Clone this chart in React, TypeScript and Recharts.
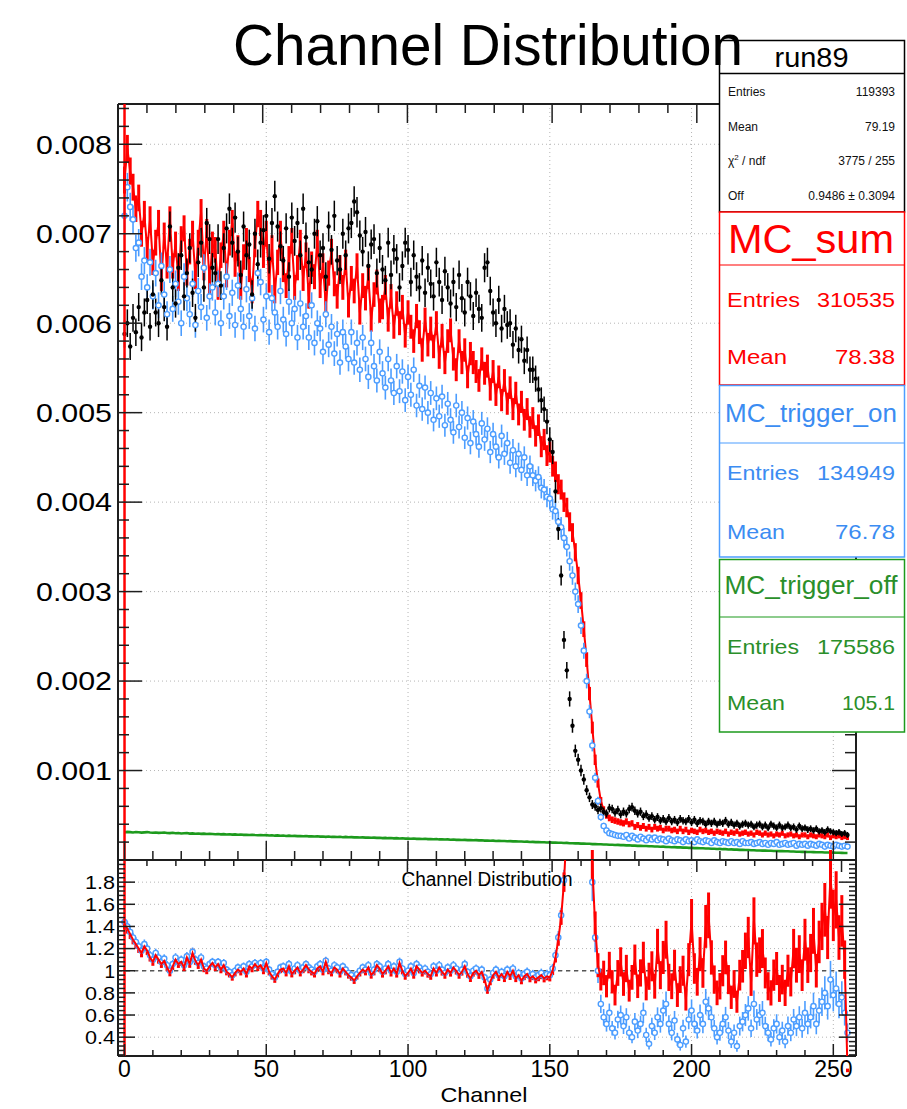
import React from 'react';
import { ComposedChart, Line, Scatter, XAxis, YAxis, ErrorBar, ReferenceLine, CartesianGrid } from 'recharts';

// bin centres (channel)
const CHANNELS = [
  0, 1, 2, 3, 4, 5, 6, 7, 8, 9, 10, 11, 12, 13, 14, 15,
  16, 17, 18, 19, 20, 21, 22, 23, 24, 25, 26, 27, 28, 29, 30, 31,
  32, 33, 34, 35, 36, 37, 38, 39, 40, 41, 42, 43, 44, 45, 46, 47,
  48, 49, 50, 51, 52, 53, 54, 55, 56, 57, 58, 59, 60, 61, 62, 63,
  64, 65, 66, 67, 68, 69, 70, 71, 72, 73, 74, 75, 76, 77, 78, 79,
  80, 81, 82, 83, 84, 85, 86, 87, 88, 89, 90, 91, 92, 93, 94, 95,
  96, 97, 98, 99, 100, 101, 102, 103, 104, 105, 106, 107, 108, 109, 110, 111,
  112, 113, 114, 115, 116, 117, 118, 119, 120, 121, 122, 123, 124, 125, 126, 127,
  128, 129, 130, 131, 132, 133, 134, 135, 136, 137, 138, 139, 140, 141, 142, 143,
  144, 145, 146, 147, 148, 149, 150, 151, 152, 153, 154, 155, 156, 157, 158, 159,
  160, 161, 162, 163, 164, 165, 166, 167, 168, 169, 170, 171, 172, 173, 174, 175,
  176, 177, 178, 179, 180, 181, 182, 183, 184, 185, 186, 187, 188, 189, 190, 191,
  192, 193, 194, 195, 196, 197, 198, 199, 200, 201, 202, 203, 204, 205, 206, 207,
  208, 209, 210, 211, 212, 213, 214, 215, 216, 217, 218, 219, 220, 221, 222, 223,
  224, 225, 226, 227, 228, 229, 230, 231, 232, 233, 234, 235, 236, 237, 238, 239,
  240, 241, 242, 243, 244, 245, 246, 247, 248, 249, 250, 251, 252, 253, 254, 255,
];

// normalised bin contents, in units of 1e-5
const DATA_RUN89 = [
  588, 600, 574, 606, 590, 618, 584, 612, 626, 596, 632, 612, 600, 648, 618, 596,
  708, 640, 622, 662, 676, 630, 656, 684, 634, 606, 668, 690, 640, 712, 694, 662,
  656, 694, 642, 684, 706, 728, 690, 718, 680, 654, 708, 676, 688, 632, 700, 666,
  690, 704, 720, 672, 712, 742, 708, 686, 670, 706, 652, 718, 692, 712, 676, 728,
  696, 668, 660, 700, 714, 676, 684, 652, 708, 682, 720, 670, 660, 700, 676, 706,
  712, 736, 724, 698, 680, 702, 664, 688, 694, 656, 684, 660, 648, 690, 654, 682,
  672, 640, 664, 690, 682, 646, 676, 652, 640, 670, 634, 662, 644, 630, 668, 646,
  626, 658, 640, 622, 646, 618, 654, 628, 612, 646, 630, 608, 634, 616, 606, 662,
  668, 636, 612, 600, 626, 594, 616, 598, 600, 576, 594, 570, 582, 558, 570, 548,
  548, 538, 526, 514, 504, 490, 470, 456, 412, 370, 318, 246, 212, 180, 150, 122,
  112, 100, 90, 78, 70, 62, 60, 56, 58, 54, 52, 58, 57, 53, 56, 51,
  54, 52, 57, 59, 55, 52, 54, 49, 51, 47, 49, 45, 48, 44, 46, 43,
  47, 43, 45, 42, 46, 44, 43, 46, 42, 45, 41, 44, 43, 40, 43, 41,
  43, 40, 42, 41, 44, 40, 42, 39, 41, 38, 40, 41, 39, 40, 37, 39,
  40, 37, 39, 36, 40, 38, 36, 39, 36, 37, 39, 36, 37, 34, 38, 35,
  36, 34, 35, 33, 35, 32, 33, 31, 34, 32, 31, 30, 31, 29, 30, 28,
];

const MC_SUM = [
  760, 795, 770, 752, 728, 740, 700, 722, 682, 716, 668, 690, 712, 650, 698, 664,
  716, 664, 688, 650, 694, 706, 656, 680, 700, 652, 690, 724, 662, 702, 646, 688,
  682, 640, 676, 700, 654, 690, 712, 666, 684, 640, 674, 692, 660, 636, 688, 722,
  712, 676, 700, 648, 684, 636, 668, 700, 660, 642, 672, 692, 640, 662, 690, 650,
  676, 630, 666, 652, 690, 642, 664, 620, 656, 680, 644, 630, 662, 640, 668, 620,
  650, 636, 664, 612, 642, 628, 652, 604, 632, 646, 614, 618, 640, 604, 630, 596,
  622, 600, 618, 586, 612, 596, 580, 608, 590, 570, 604, 576, 594, 574, 600, 562,
  586, 556, 580, 592, 560, 548, 580, 556, 570, 540, 566, 556, 546, 536, 560, 544,
  552, 526, 546, 520, 540, 514, 536, 510, 528, 504, 522, 498, 512, 492, 504, 484,
  494, 474, 486, 462, 470, 452, 456, 440, 434, 420, 414, 400, 394, 378, 366, 344,
  318, 290, 258, 224, 186, 148, 112, 86, 66, 56, 50, 47, 45, 44, 43, 42,
  41, 43, 40, 41, 37, 39, 36, 38, 35, 37, 34, 37, 35, 36, 33, 35,
  35, 33, 34, 32, 35, 32, 34, 31, 33, 32, 31, 34, 32, 33, 31, 32,
  30, 32, 31, 30, 32, 29, 31, 30, 32, 29, 30, 31, 29, 30, 28, 31,
  30, 28, 30, 28, 29, 27, 29, 28, 30, 27, 28, 29, 27, 28, 26, 28,
  28, 26, 28, 27, 26, 28, 27, 26, 28, 25, 27, 26, 27, 25, 26, 25,
];

const MC_TRIGGER_ON = [
  720, 752, 730, 716, 684, 690, 652, 670, 640, 668, 630, 656, 620, 664, 632, 610,
  660, 616, 644, 624, 600, 652, 628, 610, 644, 598, 636, 618, 662, 606, 630, 640,
  612, 644, 600, 630, 652, 608, 634, 598, 642, 616, 596, 638, 608, 628, 594, 656,
  646, 604, 630, 590, 628, 612, 596, 636, 604, 588, 624, 600, 616, 584, 622, 596,
  608, 584, 620, 578, 600, 594, 568, 610, 576, 596, 566, 588, 556, 590, 574, 560,
  590, 556, 578, 548, 584, 560, 540, 578, 552, 536, 568, 544, 528, 560, 536, 522,
  552, 524, 546, 514, 540, 520, 548, 508, 530, 504, 528, 500, 522, 492, 516, 496,
  518, 486, 510, 492, 478, 508, 484, 500, 472, 494, 466, 490, 476, 462, 488, 470,
  482, 456, 476, 462, 450, 474, 454, 466, 444, 458, 440, 454, 436, 450, 430, 440,
  430, 424, 428, 416, 414, 406, 404, 392, 390, 378, 372, 360, 350, 334, 318, 300,
  286, 262, 234, 200, 166, 128, 92, 66, 48, 38, 33, 30, 29, 28, 27, 27,
  26, 28, 24, 27, 25, 23, 26, 24, 22, 25, 23, 25, 22, 24, 23, 21,
  24, 22, 21, 23, 22, 20, 23, 21, 22, 20, 23, 21, 20, 22, 21, 19,
  22, 20, 19, 21, 20, 19, 21, 19, 20, 18, 21, 19, 19, 20, 18, 19,
  20, 18, 19, 17, 19, 18, 20, 17, 18, 19, 17, 18, 19, 16, 18, 17,
  18, 16, 18, 17, 16, 18, 17, 15, 17, 16, 15, 17, 16, 15, 16, 15,
];

const MC_TRIGGER_OFF = [
  31.0, 31.4, 31.2, 30.8, 31.3, 31.0, 30.6, 30.9, 31.2, 30.7, 30.4, 30.8, 30.3, 30.5, 30.7, 30.2,
  30.0, 30.4, 29.9, 30.2, 29.6, 29.9, 30.1, 29.5, 29.7, 29.3, 29.6, 29.2, 29.5, 29.0, 29.3, 29.1,
  28.8, 29.1, 28.7, 28.9, 28.5, 28.8, 28.4, 28.6, 28.2, 28.5, 28.1, 28.3, 28.0, 28.2, 27.9, 27.7,
  28.0, 27.6, 27.8, 27.4, 27.6, 27.2, 27.5, 27.1, 27.3, 26.9, 27.2, 26.8, 27.0, 26.7, 26.9, 26.5,
  26.8, 26.4, 26.6, 26.2, 26.5, 26.1, 26.3, 25.9, 26.2, 25.8, 26.0, 25.7, 25.9, 25.5, 25.8, 25.4,
  25.6, 25.3, 25.5, 25.1, 25.3, 25.0, 25.2, 24.8, 25.0, 24.7, 24.9, 24.5, 24.7, 24.4, 24.6, 24.2,
  24.4, 24.1, 24.3, 23.9, 24.1, 23.8, 24.0, 23.6, 23.8, 23.5, 23.7, 23.3, 23.5, 23.2, 23.4, 23.0,
  23.2, 22.9, 23.0, 22.7, 22.9, 22.5, 22.7, 22.4, 22.5, 22.2, 22.4, 22.0, 22.2, 21.9, 22.0, 21.7,
  21.8, 21.5, 21.7, 21.3, 21.5, 21.2, 21.3, 21.0, 21.1, 20.8, 20.9, 20.6, 20.7, 20.4, 20.5, 20.2,
  20.3, 20.0, 20.1, 19.8, 19.9, 19.6, 19.7, 19.4, 19.5, 19.2, 19.3, 19.0, 19.1, 18.8, 18.8, 18.6,
  18.6, 18.3, 18.4, 18.1, 18.1, 17.8, 17.9, 17.6, 17.6, 17.3, 17.4, 17.1, 17.1, 16.8, 16.9, 16.6,
  16.6, 16.3, 16.4, 16.1, 16.1, 15.8, 15.9, 15.6, 15.6, 15.3, 15.4, 15.1, 15.1, 14.8, 14.9, 14.6,
  14.6, 14.3, 14.4, 14.1, 14.1, 13.8, 13.9, 13.6, 13.6, 13.3, 13.4, 13.1, 13.1, 12.8, 12.9, 12.6,
  12.6, 12.3, 12.4, 12.1, 12.1, 11.8, 11.9, 11.6, 11.6, 11.3, 11.4, 11.1, 11.1, 10.9, 10.9, 10.7,
  10.7, 10.5, 10.5, 10.3, 10.3, 10.1, 10.1, 9.9, 9.9, 9.7, 9.7, 9.5, 9.5, 9.3, 9.3, 9.1,
  9.1, 8.9, 8.9, 8.8, 8.7, 8.6, 8.6, 8.4, 8.4, 8.3, 8.2, 8.1, 8.1, 8.0, 7.9, 7.9,
];

// ratio panel
const RATIO_SUM = [
  1.42, 1.38, 1.33, 1.28, 1.24, 1.20, 1.16, 1.22, 1.18, 1.12, 1.08, 1.14, 1.10, 1.06, 1.09, 1.03,
  0.98, 1.04, 1.10, 1.06, 1.08, 1.03, 1.12, 1.06, 1.16, 1.09, 1.05, 1.10, 1.02, 1.00, 1.04, 1.07,
  1.03, 1.06, 1.01, 1.05, 0.99, 0.97, 0.94, 0.98, 1.01, 0.99, 1.02, 0.97, 1.04, 1.02, 1.06, 1.03,
  1.05, 1.00, 1.07, 0.99, 0.95, 0.92, 0.97, 1.01, 1.02, 0.98, 1.04, 0.97, 1.00, 1.03, 0.98, 1.01,
  1.05, 1.01, 0.99, 0.97, 1.02, 1.04, 0.99, 1.08, 1.00, 0.98, 1.03, 1.01, 0.97, 1.02, 0.99, 0.96,
  0.94, 0.91, 0.95, 0.98, 1.01, 0.99, 1.03, 0.96, 0.99, 1.05, 1.02, 0.97, 1.00, 1.04, 0.98, 1.02,
  0.97, 1.07, 1.00, 0.95, 0.98, 1.02, 0.96, 1.04, 1.01, 0.98, 1.00, 0.97, 0.95, 1.02, 0.98, 1.03,
  0.99, 0.96, 1.01, 0.98, 1.03, 1.00, 0.96, 0.99, 1.04, 0.97, 0.93, 0.98, 1.00, 0.96, 0.99, 0.92,
  0.82, 0.90, 0.96, 0.99, 0.94, 0.97, 0.93, 0.99, 0.95, 1.00, 0.93, 0.96, 0.91, 0.95, 0.97, 0.93,
  0.95, 0.92, 0.94, 0.96, 0.93, 0.95, 0.94, 1.00, 1.12, 1.28, 1.48, 1.80, 2.30, 2.80, 3.00, 3.00,
  3.00, 3.00, 3.00, 3.00, 2.60, 1.95, 1.40, 1.05, 0.92, 0.98, 0.86, 1.05, 0.90, 0.78, 0.98, 1.08,
  0.88, 1.02, 0.82, 0.94, 1.10, 0.86, 0.98, 1.12, 0.84, 0.95, 1.04, 0.86, 1.22, 0.96, 1.12, 1.28,
  0.94, 0.86, 1.05, 0.78, 0.92, 1.00, 0.74, 1.10, 1.45, 1.02, 0.90, 1.15, 0.98, 1.40, 1.50, 1.12,
  0.92, 0.80, 0.86, 1.00, 1.12, 0.92, 0.76, 0.88, 0.72, 0.96, 1.04, 1.18, 1.30, 0.90, 1.45, 1.10,
  1.14, 1.20, 0.98, 0.86, 0.80, 0.96, 1.02, 0.84, 0.92, 0.80, 1.00, 0.90, 1.20, 1.05, 1.15, 0.96,
  1.28, 1.05, 1.16, 1.36, 1.00, 1.26, 1.40, 1.55, 1.30, 1.85, 1.50, 1.64, 1.30, 1.45, 1.10, 0.10,
];

const RATIO_ON = [
  1.44, 1.40, 1.35, 1.30, 1.26, 1.22, 1.18, 1.24, 1.20, 1.14, 1.10, 1.16, 1.12, 1.08, 1.11, 1.05,
  1.00, 1.06, 1.12, 1.08, 1.10, 1.05, 1.13, 1.08, 1.17, 1.10, 1.07, 1.12, 1.04, 1.02, 1.06, 1.08,
  1.05, 1.08, 1.03, 1.07, 1.01, 0.99, 0.96, 1.00, 1.03, 1.01, 1.04, 0.99, 1.06, 1.04, 1.07, 1.05,
  1.07, 1.02, 1.08, 1.01, 0.97, 0.94, 0.99, 1.03, 1.04, 1.00, 1.06, 0.99, 1.02, 1.05, 1.00, 1.03,
  1.06, 1.03, 1.01, 0.99, 1.04, 1.06, 1.01, 1.09, 1.02, 1.00, 1.05, 1.03, 0.99, 1.04, 1.01, 0.98,
  0.96, 0.93, 0.97, 1.00, 1.03, 1.01, 1.05, 0.98, 1.01, 1.06, 1.04, 0.99, 1.02, 1.06, 1.00, 1.04,
  0.99, 1.08, 1.02, 0.97, 1.00, 1.04, 0.98, 1.06, 1.03, 1.00, 1.02, 0.99, 0.97, 1.04, 1.00, 1.05,
  1.01, 0.98, 1.03, 1.00, 1.05, 1.02, 0.98, 1.01, 1.06, 0.99, 0.95, 1.00, 1.02, 0.98, 1.01, 0.94,
  0.84, 0.92, 0.98, 1.01, 0.96, 0.99, 0.95, 1.01, 0.97, 1.02, 0.95, 0.98, 0.93, 0.97, 0.99, 0.95,
  0.97, 0.94, 0.96, 0.98, 0.95, 0.97, 0.96, 1.02, 1.14, 1.30, 1.50, 1.82, 2.30, 2.80, 3.00, 3.00,
  3.00, 3.00, 3.00, 3.00, 2.40, 1.80, 1.30, 1.00, 0.70, 0.58, 0.52, 0.62, 0.48, 0.44, 0.56, 0.60,
  0.50, 0.58, 0.44, 0.40, 0.54, 0.46, 0.52, 0.62, 0.42, 0.34, 0.50, 0.44, 0.58, 0.52, 0.64, 0.70,
  0.52, 0.44, 0.55, 0.38, 0.33, 0.48, 0.36, 0.56, 0.64, 0.52, 0.46, 0.60, 0.52, 0.72, 0.66, 0.58,
  0.48, 0.40, 0.44, 0.52, 0.58, 0.46, 0.36, 0.44, 0.32, 0.50, 0.54, 0.60, 0.66, 0.48, 0.70, 0.56,
  0.60, 0.62, 0.50, 0.44, 0.38, 0.48, 0.52, 0.40, 0.46, 0.36, 0.50, 0.44, 0.56, 0.50, 0.58, 0.48,
  0.62, 0.52, 0.58, 0.68, 0.52, 0.64, 0.72, 0.80, 0.68, 0.92, 0.78, 0.84, 0.70, 0.76, 0.62, 0.44,
];

// axis ticks and labels
const X_LABELS = [0, 50, 100, 150, 200, 250];
const X_TICKS = [0, 10, 20, 30, 40, 50, 60, 70, 80, 90, 100, 110, 120, 130, 140, 150, 160, 170, 180, 190, 200, 210, 220, 230, 240, 250];
const Y_TOP_LABELS = [0.001, 0.002, 0.003, 0.004, 0.005, 0.006, 0.007, 0.008];
const Y_TOP_TICKS = Array.from({ length: 42 }, (_, i) => +((i + 1) * 0.0002).toFixed(4));
const Y_RATIO_LABELS = [0.4, 0.6, 0.8, 1, 1.2, 1.4, 1.6, 1.8];
const Y_RATIO_MAJOR = [...Y_RATIO_LABELS, 2];
const Y_RATIO_TICKS = Array.from({ length: 45 }, (_, i) => +(0.24 + i * 0.04).toFixed(2));

const RUN89_STATS = [
  ['Entries', '119393'],
  ['Mean', '79.19'],
  ['chi', '3775 / 255'],
  ['Off', '0.9486 \u00b1 0.3094'],
];

const X_DOMAIN: [number, number] = [-2.3, 258];
const Y_TOP_DOMAIN: [number, number] = [0, 0.00845];
const Y_RATIO_DOMAIN: [number, number] = [0.23, 2];

// sigma^2 = K * content
const K_DATA = 4.0e-6;
const K_SUM = 3.0e-6;
const K_ON = 3.4e-6;

const FONT = '"Liberation Sans", Arial, Helvetica, sans-serif';
const RED = '#ff0000';
const BLUE = '#4c9dff';
const BLUE_TEXT = '#3b8cf2';
const GREEN = '#1d9a1d';
const GREEN_TEXT = '#2a8f2a';
const FRAME = '#1e1e1e';
const GRID = '#b5b5b5';
const AXIS_LINE = { stroke: FRAME, strokeWidth: 2 };

const topData = CHANNELS.map((ch, i) => {
  const d = DATA_RUN89[i] * 1e-5;
  const s = MC_SUM[i] * 1e-5;
  const on = MC_TRIGGER_ON[i] * 1e-5;
  return {
    ch,
    data: d,
    dataErr: Math.sqrt(K_DATA * d),
    sum: s,
    sumErr: Math.sqrt(K_SUM * s),
    on,
    onErr: Math.sqrt(K_ON * on),
    off: MC_TRIGGER_OFF[i] * 1e-5,
    xErr: 0.5,
  };
});

const ratioData = CHANNELS.map((ch, i) => {
  const relD = K_DATA / (DATA_RUN89[i] * 1e-5);
  return {
    ch,
    sum: RATIO_SUM[i],
    sumErr: RATIO_SUM[i] * Math.sqrt(relD + K_SUM / (MC_SUM[i] * 1e-5)),
    on: RATIO_ON[i],
    onErr: RATIO_ON[i] * Math.sqrt(relD + K_ON / (MC_TRIGGER_ON[i] * 1e-5)),
  };
});

type TickProps = { x: number; y: number; payload: { value: number } };

const isIn = (list: number[], v: number) => list.some((l) => Math.abs(l - v) < 1e-9);

// ROOT style ticks: drawn inward from the frame
function xTick(dir: 1 | -1, majorLen: number, minorLen: number, label: boolean) {
  return (p: TickProps) => {
    const v = p.payload.value;
    const big = isIn(X_LABELS, v);
    return (
      <g>
        <line x1={p.x} x2={p.x} y1={p.y} y2={p.y + dir * (big ? majorLen : minorLen)} stroke={FRAME} strokeWidth={1.5} />
        {label && big && (
          <text x={p.x} y={p.y + 21} textAnchor="middle" fontSize={23} fontFamily={FONT} fill="#000">
            {v}
          </text>
        )}
      </g>
    );
  };
}

function yTick(
  dir: 1 | -1,
  majorLen: number,
  minorLen: number,
  majors: number[],
  fmt: ((v: number) => string) | null,
  fontSize = 0,
  gap = 0,
  textLen = 0,
) {
  return (p: TickProps) => {
    const v = p.payload.value;
    const big = isIn(majors, v);
    const text = fmt && big ? fmt(v) : '';
    return (
      <g>
        <line x1={p.x} x2={p.x + dir * (big ? majorLen : minorLen)} y1={p.y} y2={p.y} stroke={FRAME} strokeWidth={1.5} />
        {text && (
          <text
            x={p.x - gap}
            y={p.y}
            dy="0.36em"
            textAnchor="end"
            fontSize={fontSize}
            fontFamily={FONT}
            fill="#000"
            textLength={text.length > 1 ? textLen : undefined}
            lengthAdjust="spacingAndGlyphs"
          >
            {text}
          </text>
        )}
      </g>
    );
  };
}

const blackDot = (p: any) => <circle cx={p.cx} cy={p.cy} r={2.2} fill="#000" />;
const blueCircle = (p: any) => <circle cx={p.cx} cy={p.cy} r={2.6} fill="#fff" stroke={BLUE} strokeWidth={1.4} />;

const topLabel = (v: number) => v.toFixed(3);
const ratioLabel = (v: number) => (isIn(Y_RATIO_LABELS, v) ? String(+v.toFixed(1)) : '');

function TopPanel() {
  return (
    <ComposedChart width={907} height={870} data={topData} margin={{ top: 103, right: 50, bottom: 0, left: 0 }}>
      <CartesianGrid xAxisId="b" yAxisId="l" horizontalValues={Y_TOP_LABELS} verticalValues={X_LABELS} stroke={GRID} strokeDasharray="1 3" />
      <XAxis xAxisId="b" dataKey="ch" type="number" domain={X_DOMAIN} allowDataOverflow ticks={X_TICKS} interval={0}
        tickSize={0} tickMargin={0} height={10} axisLine={AXIS_LINE} tickLine={false} tick={xTick(-1, 19, 9, false)} />
      <XAxis xAxisId="t" orientation="top" type="number" domain={X_DOMAIN} allowDataOverflow ticks={X_TICKS} interval={0}
        tickSize={0} tickMargin={0} height={1} axisLine={AXIS_LINE} tickLine={false} tick={xTick(1, 19, 9, false)} />
      <YAxis yAxisId="l" type="number" domain={Y_TOP_DOMAIN} allowDataOverflow ticks={Y_TOP_TICKS} interval={0}
        tickSize={0} tickMargin={0} width={118} axisLine={AXIS_LINE} tickLine={false}
        tick={yTick(1, 24, 11, Y_TOP_LABELS, topLabel, 26, 6, 76)} />
      <YAxis yAxisId="r" orientation="right" type="number" domain={Y_TOP_DOMAIN} allowDataOverflow ticks={Y_TOP_TICKS} interval={0}
        tickSize={0} tickMargin={0} width={1} axisLine={AXIS_LINE} tickLine={false}
        tick={yTick(-1, 24, 11, Y_TOP_LABELS, null)} />

      <Line xAxisId="b" yAxisId="l" dataKey="sum" stroke={RED} strokeWidth={2} dot={false} isAnimationActive={false}>
        <ErrorBar dataKey="sumErr" direction="y" width={0} stroke={RED} strokeWidth={3} />
      </Line>
      <Scatter xAxisId="b" yAxisId="l" dataKey="on" shape={blueCircle} isAnimationActive={false}>
        <ErrorBar dataKey="onErr" direction="y" width={0} stroke={BLUE} strokeWidth={1.6} />
      </Scatter>
      <Scatter xAxisId="b" yAxisId="l" dataKey="data" shape={blackDot} isAnimationActive={false}>
        <ErrorBar dataKey="dataErr" direction="y" width={0} stroke="#000" strokeWidth={1.5} />
        <ErrorBar dataKey="xErr" direction="x" width={0} stroke="#000" strokeWidth={1.5} />
      </Scatter>
      <Line xAxisId="b" yAxisId="l" dataKey="off" stroke={GREEN} strokeWidth={2.6} dot={false} isAnimationActive={false} zIndex={700} />
      <ReferenceLine xAxisId="b" yAxisId="l" x={0} stroke={RED} strokeWidth={2.5} zIndex={800} />
    </ComposedChart>
  );
}

function RatioPanel() {
  return (
    <ComposedChart width={907} height={259} data={ratioData} margin={{ top: 9, right: 50, bottom: 0, left: 0 }}>
      <CartesianGrid xAxisId="b" yAxisId="l" horizontalValues={Y_RATIO_LABELS} verticalValues={X_LABELS} stroke={GRID} strokeDasharray="1 3" />
      <XAxis xAxisId="b" dataKey="ch" type="number" domain={X_DOMAIN} allowDataOverflow ticks={X_TICKS} interval={0}
        tickSize={0} tickMargin={0} height={53} axisLine={AXIS_LINE} tickLine={false} tick={xTick(-1, 12, 6, true)} />
      <XAxis xAxisId="t" orientation="top" type="number" domain={X_DOMAIN} allowDataOverflow ticks={X_TICKS} interval={0}
        tickSize={0} tickMargin={0} height={1} axisLine={AXIS_LINE} tickLine={false} tick={xTick(1, 12, 6, false)} />
      <YAxis yAxisId="l" type="number" domain={Y_RATIO_DOMAIN} allowDataOverflow ticks={Y_RATIO_TICKS} interval={0}
        tickSize={0} tickMargin={0} width={118} axisLine={AXIS_LINE} tickLine={false}
        tick={yTick(1, 17, 7, Y_RATIO_MAJOR, ratioLabel, 19, 3, 30)} />
      <YAxis yAxisId="r" orientation="right" type="number" domain={Y_RATIO_DOMAIN} allowDataOverflow ticks={Y_RATIO_TICKS} interval={0}
        tickSize={0} tickMargin={0} width={1} axisLine={AXIS_LINE} tickLine={false}
        tick={yTick(-1, 17, 7, Y_RATIO_MAJOR, null)} />
      <ReferenceLine xAxisId="b" yAxisId="l" y={1} stroke="#555" strokeWidth={1.5} strokeDasharray="4 4" />

      <Scatter xAxisId="b" yAxisId="l" dataKey="on" shape={blueCircle} isAnimationActive={false}>
        <ErrorBar dataKey="onErr" direction="y" width={0} stroke={BLUE} strokeWidth={1.6} />
      </Scatter>
      <Line xAxisId="b" yAxisId="l" dataKey="sum" stroke={RED} strokeWidth={2} dot={false} isAnimationActive={false} zIndex={700}>
        <ErrorBar dataKey="sumErr" direction="y" width={0} stroke={RED} strokeWidth={3} />
      </Line>
      <ReferenceLine xAxisId="b" yAxisId="l" x={0} stroke={RED} strokeWidth={2.5} zIndex={800} />
    </ComposedChart>
  );
}

function StatRow({ y, label, value, color, size, labelLen, valueLen }: any) {
  return (
    <g fill={color} fontSize={size}>
      <text x={727} y={y} textLength={labelLen} lengthAdjust="spacingAndGlyphs">{label}</text>
      <text x={895} y={y} textAnchor="end" textLength={valueLen} lengthAdjust="spacingAndGlyphs">{value}</text>
    </g>
  );
}

function Overlay() {
  return (
    <svg width={907} height={1109} style={{ position: 'absolute', left: 0, top: 0 }} fontFamily={FONT}>
      {/* data stats */}
      <rect x={719.5} y={40.5} width={185} height={171.5} fill="#fff" stroke="#000" strokeWidth={1.5} />
      <line x1={719.5} x2={904.5} y1={73.5} y2={73.5} stroke="#000" strokeWidth={1.5} />
      <text x={811.5} y={67} fontSize={27} textAnchor="middle" textLength={74} lengthAdjust="spacingAndGlyphs">run89</text>
      {RUN89_STATS.map(([k, v], i) => (
        <g key={k} fontSize={12} fill="#111">
          <text x={728} y={96 + i * 34.7}>
            {k === 'chi' ? (
              <>
                {'\u03c7'}
                <tspan dy={-5} fontSize={8}>2</tspan>
                <tspan dy={5}>{' / ndf'}</tspan>
              </>
            ) : (
              k
            )}
          </text>
          <text x={895} y={96 + i * 34.7} textAnchor="end">{v}</text>
        </g>
      ))}

      {/* MC_sum */}
      <rect x={719.5} y={212} width={185} height={173} fill="#fff" stroke={RED} strokeWidth={1.5} />
      <line x1={719.5} x2={904.5} y1={265} y2={265} stroke={RED} strokeWidth={1.2} />
      <text x={811} y={253} fontSize={40} fill={RED} textAnchor="middle" textLength={166} lengthAdjust="spacingAndGlyphs">MC_sum</text>
      <StatRow y={307} label="Entries" value="310535" color={RED} size={21} labelLen={73} valueLen={78} />
      <StatRow y={364} label="Mean" value="78.38" color={RED} size={21} labelLen={60} valueLen={60} />

      {/* MC_trigger_on */}
      <rect x={719.5} y={385.5} width={185} height={171.5} fill="#fff" stroke={BLUE} strokeWidth={1.5} />
      <line x1={719.5} x2={904.5} y1={443} y2={443} stroke={BLUE} strokeWidth={1.2} />
      <text x={811} y={422} fontSize={25} fill={BLUE_TEXT} textAnchor="middle" textLength={172} lengthAdjust="spacingAndGlyphs">MC_trigger_on</text>
      <StatRow y={480} label="Entries" value="134949" color={BLUE_TEXT} size={21} labelLen={72} valueLen={78} />
      <StatRow y={539} label="Mean" value="76.78" color={BLUE_TEXT} size={21} labelLen={58} valueLen={60} />

      {/* MC_trigger_off */}
      <rect x={719.5} y={559.5} width={185} height={172.5} fill="#fff" stroke={GREEN} strokeWidth={1.5} />
      <line x1={719.5} x2={904.5} y1={617} y2={617} stroke={GREEN} strokeWidth={1.2} />
      <text x={811} y={594} fontSize={25} fill={GREEN_TEXT} textAnchor="middle" textLength={173} lengthAdjust="spacingAndGlyphs">MC_trigger_off</text>
      <StatRow y={654} label="Entries" value="175586" color={GREEN_TEXT} size={21} labelLen={72} valueLen={78} />
      <StatRow y={710} label="Mean" value="105.1" color={GREEN_TEXT} size={21} labelLen={58} valueLen={53} />

      {/* titles */}
      <text x={488} y={65} fontSize={58} textAnchor="middle" textLength={510} lengthAdjust="spacingAndGlyphs">Channel Distribution</text>
      <text x={487} y={886} fontSize={20} textAnchor="middle" textLength={171} lengthAdjust="spacingAndGlyphs">Channel Distribution</text>
      <text x={484} y={1102} fontSize={21} textAnchor="middle" textLength={87} lengthAdjust="spacingAndGlyphs">Channel</text>
    </svg>
  );
}

export default function App() {
  return (
    <div style={{ position: 'absolute', left: 0, top: 0, width: 907, height: 1109, background: '#fff' }}>
      <div style={{ position: 'absolute', left: 0, top: 0 }}>
        <TopPanel />
      </div>
      <div style={{ position: 'absolute', left: 0, top: 850 }}>
        <RatioPanel />
      </div>
      <Overlay />
    </div>
  );
}
